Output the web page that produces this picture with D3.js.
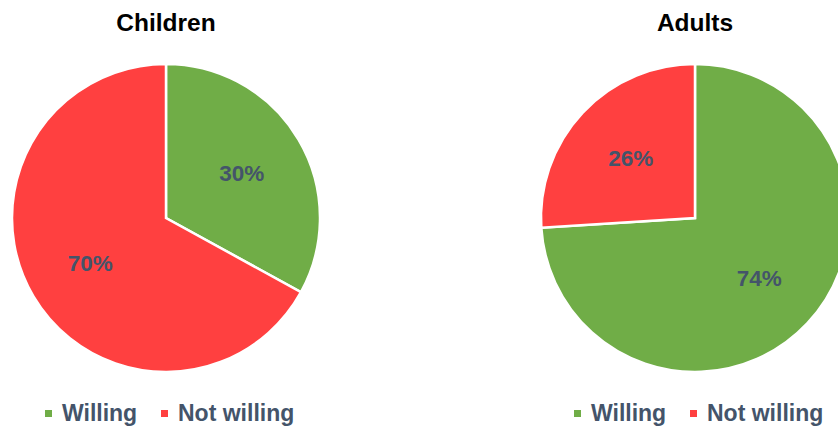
<!DOCTYPE html>
<html>
<head>
<meta charset="utf-8">
<script src="https://cdn.jsdelivr.net/npm/d3@7"></script>
<style>
  body { margin: 0; background: #fff; }
  svg { display: block; font-family: "Liberation Sans", Arial, sans-serif; }
</style>
</head>
<body>
<svg></svg>
<script>
const WIDTH = 838;
const HEIGHT = 430;
const CATEGORIES = ['Willing', 'Not willing'];
const COLORS = ['#70ad47', '#ff4040'];
const GROUPS = ['Children', 'Adults'];
// slice sizes as drawn in the picture, labels as printed on it
const CHILDREN_VALUES = [33, 67];
const ADULTS_VALUES = [74, 26];
const CHILDREN_LABELS = ['30%', '70%'];
const ADULTS_LABELS = ['74%', '26%'];
const CENTERS = [166, 695];
const RADIUS = 154;
const CY = 218;

const svg = d3.select('svg').attr('width', WIDTH).attr('height', HEIGHT);

const pie = d3.pie().sort(null).value((d) => d.value);
const arc = d3.arc().innerRadius(0).outerRadius(RADIUS);
const labelArc = d3.arc().innerRadius(88).outerRadius(88);
const color = d3.scaleOrdinal().domain(CATEGORIES).range(COLORS);

const charts = [
  { title: GROUPS[0], values: CHILDREN_VALUES, labels: CHILDREN_LABELS },
  { title: GROUPS[1], values: ADULTS_VALUES, labels: ADULTS_LABELS },
];

charts.forEach((chart, i) => {
  const cx = CENTERS[i];
  const data = CATEGORIES.map((c, j) => ({ name: c, value: chart.values[j], label: chart.labels[j] }));

  svg.append('text')
    .attr('x', cx)
    .attr('y', 31)
    .attr('text-anchor', 'middle')
    .attr('font-size', 24.5)
    .attr('font-weight', 'bold')
    .attr('fill', '#000')
    .text(chart.title);

  const g = svg.append('g').attr('transform', `translate(${cx}, ${CY})`);

  g.selectAll('path')
    .data(pie(data))
    .enter()
    .append('path')
    .attr('d', arc)
    .attr('fill', (d) => color(d.data.name))
    .attr('stroke', '#fff')
    .attr('stroke-width', 2.5);

  g.selectAll('text.pct')
    .data(pie(data))
    .enter()
    .append('text')
    .attr('class', 'pct')
    .attr('transform', (d) => `translate(${labelArc.centroid(d)})`)
    .attr('text-anchor', 'middle')
    .attr('dy', '0.35em')
    .attr('font-size', 22.5)
    .attr('font-weight', 'bold')
    .attr('fill', '#44546a')
    .text((d) => d.data.label);

  const legend = svg.append('g').attr('transform', `translate(${cx}, 413)`);
  const lx = d3.scaleOrdinal().domain(CATEGORIES).range([-121, -5]);
  const item = legend.selectAll('g')
    .data(CATEGORIES)
    .enter()
    .append('g')
    .attr('transform', (d) => `translate(${lx(d)}, 0)`);
  item.append('rect')
    .attr('x', 0)
    .attr('y', -3)
    .attr('width', 7)
    .attr('height', 7)
    .attr('fill', (d) => color(d));
  item.append('text')
    .attr('x', 17)
    .attr('y', 0)
    .attr('dy', '0.35em')
    .attr('font-size', 23)
    .attr('font-weight', 'bold')
    .attr('fill', '#44546a')
    .text((d) => d);
});
</script>
</body>
</html>
